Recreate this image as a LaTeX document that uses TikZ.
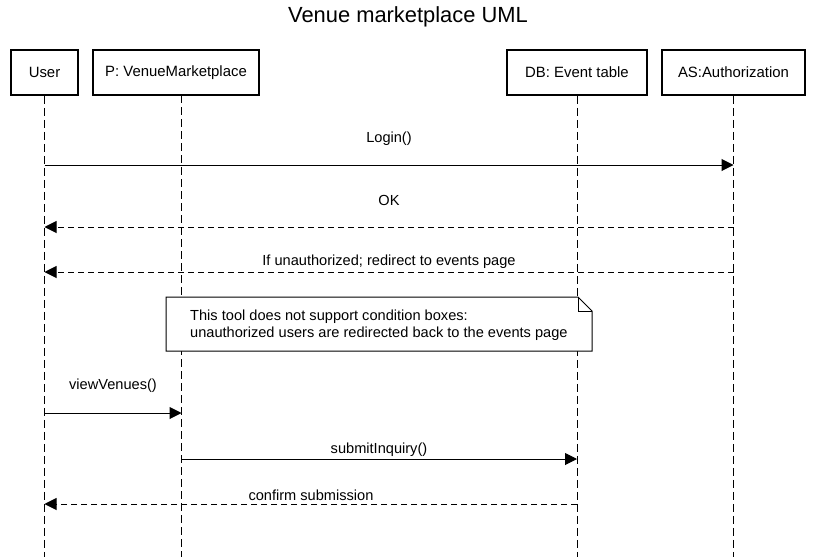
\documentclass[tikz,border=0pt]{standalone}
\usepackage{fontspec}
\setmainfont{Liberation Sans}
\usetikzlibrary{arrows.meta}
\begin{document}
\begin{tikzpicture}[x=1pt,y=-1pt,
  actor/.style={draw=black,line width=1.8pt,fill=white,inner sep=0pt,minimum height=45pt,font=\fontsize{14.9}{17}\selectfont},
  lifeline/.style={draw=black,line width=1pt,dash pattern=on 8pt off 4pt},
  msg/.style={draw=black,line width=1pt,-{Triangle[length=12pt,width=12pt]}},
  reply/.style={msg,dash pattern=on 6pt off 4pt},
  lbl/.style={font=\fontsize{14.6}{17}\selectfont,inner sep=0pt}]
\useasboundingbox[fill=white] (0,0) rectangle (815,557);
\node[font=\fontsize{21.9}{26}\selectfont] (title) at (408,17) {Venue marketplace UML};
\node[actor,minimum width=67pt] (U) at (44.5,72.5) {User};
\node[actor,minimum width=166pt] (P) at (176,72.5) {P: VenueMarketplace};
\node[actor,minimum width=140pt] (D) at (577,72.5) {DB: Event table};
\node[actor,minimum width=143pt] (A) at (733.5,72.5) {AS:Authorization};
\coordinate (Ptop) at (181.5,95);
\foreach \n in {U,D,A}{
  \coordinate (\n end) at (\n.south |- 0,557);
  \draw[lifeline] (\n.south) -- (\n end);
}
\coordinate (P end) at (Ptop |- 0,557);
\draw[lifeline] (Ptop) -- (P end);
% message anchor points
\coordinate (U1) at (U.south |- 0,165); \coordinate (A1) at (A.south |- 0,165);
\coordinate (U2) at (U.south |- 0,227); \coordinate (A2) at (A.south |- 0,227);
\coordinate (U3) at (U.south |- 0,272); \coordinate (A3) at (A.south |- 0,272);
\coordinate (U4) at (U.south |- 0,413); \coordinate (P4) at (Ptop |- 0,413);
\coordinate (P5) at (Ptop |- 0,459); \coordinate (D5) at (D.south |- 0,459);
\coordinate (U6) at (U.south |- 0,504); \coordinate (D6) at (D.south |- 0,504);
\draw[msg] (U1) -- (A1);
\node[lbl] (l1) at (389,139) {Login()};
\draw[reply] (A2) -- (U2);
\node[lbl] (l2) at (389,200) {OK};
\draw[reply] (A3) -- (U3);
\node[lbl] (l3) at (389,262) {If unauthorized; redirect to events page};
% note
\draw[fill=white,line width=1pt] (166,297) -- (578,297) -- (592,311) -- (592,351) -- (166,351) -- cycle;
\draw[line width=1pt] (578,297) -- (578,311) -- (592,311);
\node[lbl,align=left,anchor=west] (note) at (190,325) {This tool does not support condition boxes:\\unauthorized users are redirected back to the events page};
\draw[msg] (U4) -- (P4);
\node[lbl] (l4) at (113,386) {viewVenues()};
\draw[msg] (P5) -- (D5);
\node[lbl] (l5) at (379,450) {submitInquiry()};
\draw[reply] (D6) -- (U6);
\node[lbl] (l6) at (311,495) {confirm submission};
\end{tikzpicture}
\end{document}
